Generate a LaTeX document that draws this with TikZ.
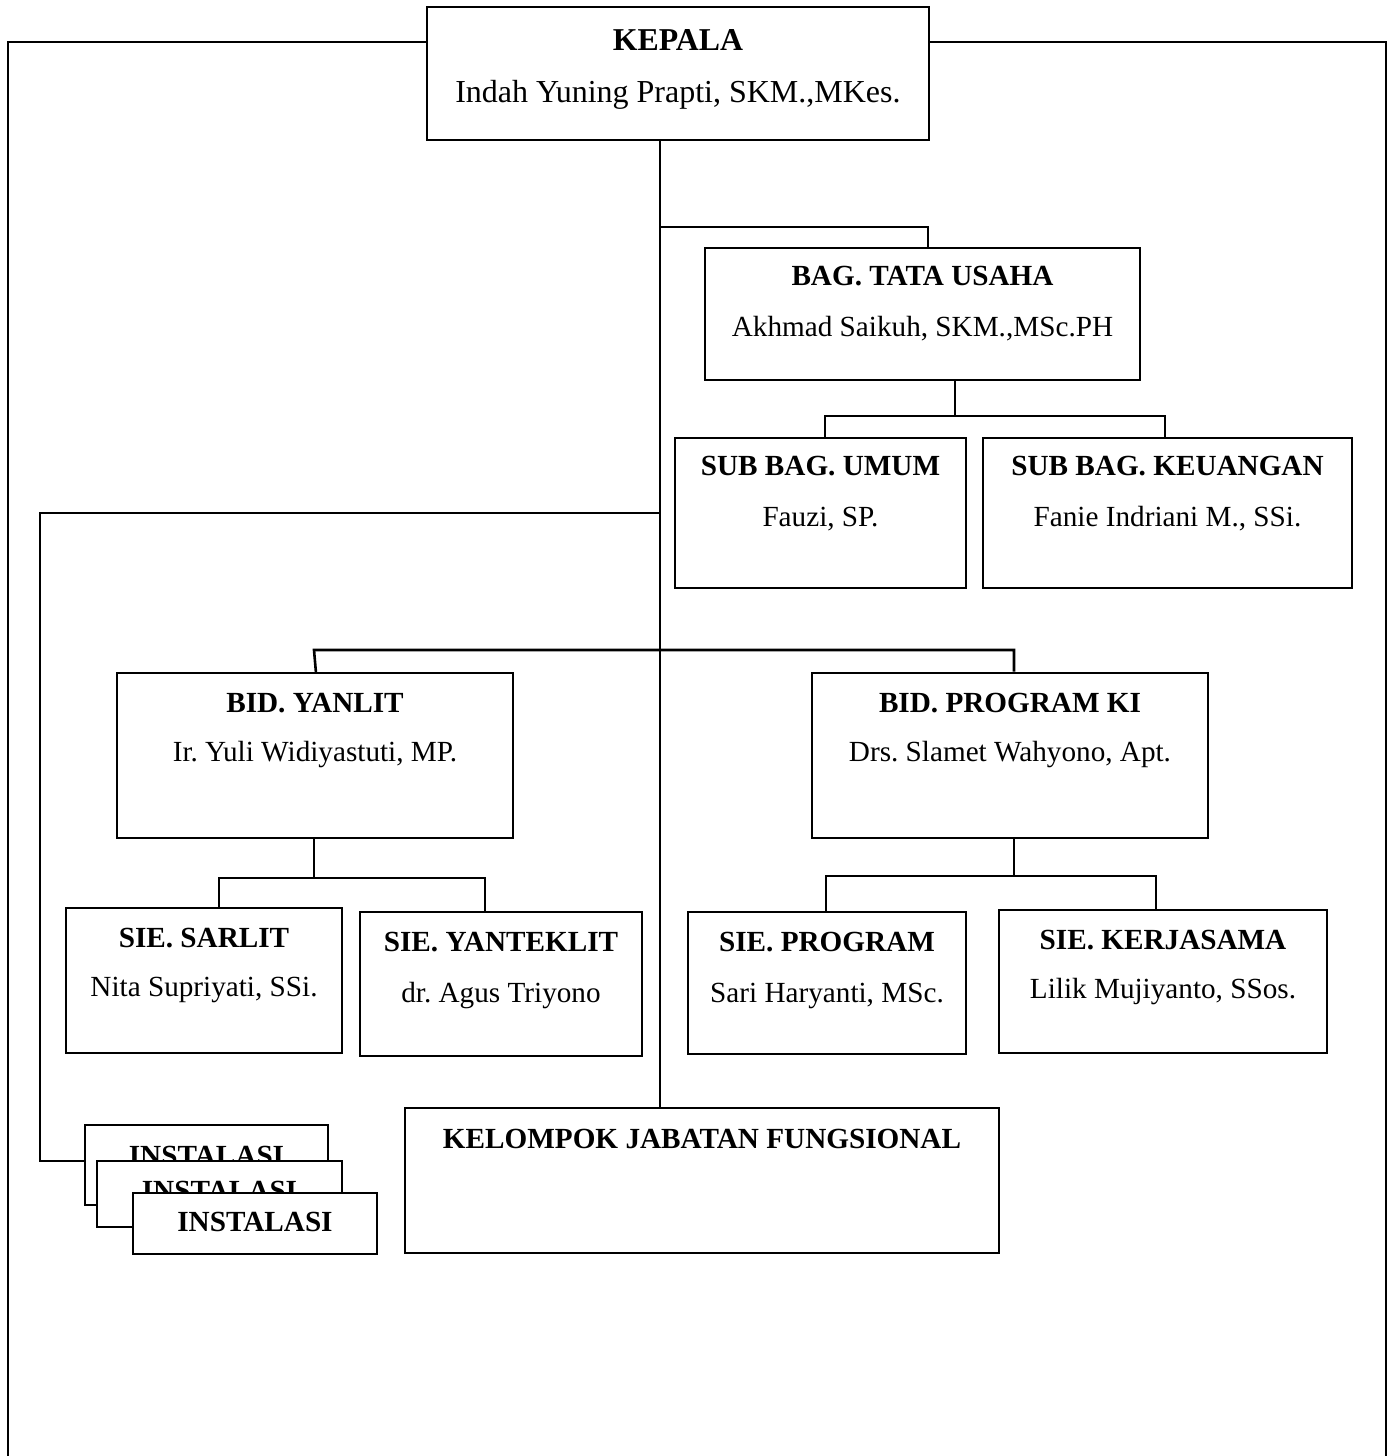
\documentclass[tikz,border=0pt]{standalone}
\usepackage{fontspec}
\setmainfont{Liberation Serif}
\usetikzlibrary{fit,calc}
\frenchspacing
\begin{document}
\begin{tikzpicture}[x=0.5pt,y=-0.5pt,
 box/.style={draw,line width=1.45pt,fill=white,inner sep=0pt},
 frame/.style={line width=1.2pt},
 conn/.style={line width=1.3pt},
 ttl/.style={font=\fontsize{14.6pt}{17pt}\selectfont\bfseries,inner sep=0pt,anchor=base},
 nm/.style={font=\fontsize{14.6pt}{17pt}\selectfont,inner sep=0pt,anchor=base},
 bigttl/.style={font=\fontsize{15.9pt}{18pt}\selectfont\bfseries,inner sep=0pt,anchor=base},
 bignm/.style={font=\fontsize{16pt}{18pt}\selectfont,inner sep=0pt,anchor=base}]
\useasboundingbox (0,0) rectangle (1394,1456);

% outer frame
\coordinate (fbl) at (8,1470);
\coordinate (ftl) at (8,42);
\coordinate (ftr) at (1386,42);
\coordinate (fbr) at (1386,1470);
\draw[frame] (fbl) -- (ftl) -- (ftr) -- (fbr);

% boxes
\node[box,fit={(427,7)(929,140)}] (kepala) {};
\node[box,fit={(705,248)(1140,380)}] (bag) {};
\node[box,fit={(675,438)(966,588)}] (umum) {};
\node[box,fit={(983,438)(1352,588)}] (keu) {};
\node[box,fit={(117,673)(513,838)}] (yanlit) {};
\node[box,fit={(812,673)(1208,838)}] (progki) {};
\node[box,fit={(66,908)(342,1053)}] (sarlit) {};
\node[box,fit={(360,912)(642,1056)}] (yanteklit) {};
\node[box,fit={(688,912)(966,1054)}] (sprog) {};
\node[box,fit={(999,910)(1327,1053)}] (kerja) {};
\node[box,fit={(405,1108)(999,1253)}] (kelompok) {};

% texts
\node[bigttl] (kepalaT) at ($(kepala.north)+(0,45)$) {KEPALA};
\node[bignm] (kepalaN) at ($(kepala.north)+(0,97)$) {Indah Yuning Prapti, SKM.,MKes.};
\node[ttl] (bagT) at ($(bag.north)+(0,39)$) {BAG. TATA USAHA};
\node[nm] (bagN) at ($(bag.north)+(0,90)$) {Akhmad Saikuh, SKM.,MSc.PH};
\node[ttl] (umumT) at ($(umum.north)+(0,39)$) {SUB BAG. UMUM};
\node[nm] (umumN) at ($(umum.north)+(0,90)$) {Fauzi, SP.};
\node[ttl] (keuT) at ($(keu.north)+(0,39)$) {SUB BAG. KEUANGAN};
\node[nm] (keuN) at ($(keu.north)+(0,90)$) {Fanie Indriani M., SSi.};
\node[ttl] (yanlitT) at ($(yanlit.north)+(0,41)$) {BID. YANLIT};
\node[nm] (yanlitN) at ($(yanlit.north)+(0,90)$) {Ir. Yuli Widiyastuti, MP.};
\node[ttl] (progkiT) at ($(progki.north)+(0,41)$) {BID. PROGRAM KI};
\node[nm] (progkiN) at ($(progki.north)+(0,90)$) {Drs. Slamet Wahyono, Apt.};
\node[ttl] (sarlitT) at ($(sarlit.north)+(0,41)$) {SIE. SARLIT};
\node[nm] (sarlitN) at ($(sarlit.north)+(0,90)$) {Nita Supriyati, SSi.};
\node[ttl] (yanteklitT) at ($(yanteklit.north)+(0,41)$) {SIE. YANTEKLIT};
\node[nm] (yanteklitN) at ($(yanteklit.north)+(0,92)$) {dr. Agus Triyono};
\node[ttl] (sprogT) at ($(sprog.north)+(0,41)$) {SIE. PROGRAM};
\node[nm] (sprogN) at ($(sprog.north)+(0,92)$) {Sari Haryanti, MSc.};
\node[ttl] (kerjaT) at ($(kerja.north)+(0,41)$) {SIE. KERJASAMA};
\node[nm] (kerjaN) at ($(kerja.north)+(0,90)$) {Lilik Mujiyanto, SSos.};
\node[ttl] (kelompokT) at ($(kelompok.north)+(0,42)$) {KELOMPOK JABATAN FUNGSIONAL};

% instalasi stack
\node[box,fit={(85,1125)(328,1205)}] (inst1) {};
\node[ttl] (inst1T) at ($(inst1.north)+(0,42)$) {INSTALASI};
\node[box,fit={(97,1161)(342,1227)}] (inst2) {};
\node[ttl] (inst2T) at ($(inst2.north)+(0,41)$) {INSTALASI};
\node[box,fit={(133,1193)(377,1254)}] (inst3) {};
\node[ttl] (inst3T) at ($(inst3.north)+(0,40)$) {INSTALASI};

% connectors
\coordinate (mx) at (660,0);
\draw[conn] (kepala.south -| mx) -- (kelompok.north -| mx);

\coordinate (jTU) at (660,227);
\coordinate (tuK) at (928,227);
\draw[conn] (jTU) -- (tuK) -- (tuK |- bag.north);

\coordinate (tuD) at (955,416);
\coordinate (sbL) at (825,416);
\coordinate (sbR) at (1165,416);
\draw[conn] (bag.south -| tuD) -- (tuD);
\draw[conn] (umum.north -| sbL) -- (sbL) -- (sbR) -- (keu.north -| sbR);

\coordinate (jIn) at (660,513);
\coordinate (inC) at (40,513);
\coordinate (inD) at (40,1161);
\draw[conn] (jIn) -- (inC) -- (inD) -- (inD -| inst1.west);

\coordinate (bLd) at (316,673);
\coordinate (bL) at (314,650);
\coordinate (bR) at (1014,650);
\draw[conn] (bLd) -- (bL) -- (bR) -- (bR |- progki.north);

\coordinate (yD) at (314,878);
\coordinate (yL) at (219,878);
\coordinate (yR) at (485,878);
\draw[conn] (yanlit.south -| yD) -- (yD);
\draw[conn] (sarlit.north -| yL) -- (yL) -- (yR) -- (yanteklit.north -| yR);

\coordinate (pD) at (1014,876);
\coordinate (pL) at (826,876);
\coordinate (pR) at (1156,876);
\draw[conn] (progki.south -| pD) -- (pD);
\draw[conn] (sprog.north -| pL) -- (pL) -- (pR) -- (kerja.north -| pR);
\end{tikzpicture}
\end{document}
